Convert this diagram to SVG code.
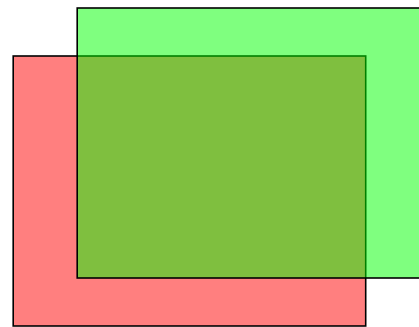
<svg xmlns="http://www.w3.org/2000/svg" width="419" height="327" viewBox="0 0 419 327">
<style>
.r{stroke:#000;stroke-width:1.6;fill-opacity:0.5}
</style>
<rect width="419" height="327" fill="#fff"/>
<g id="red"><rect class="r" x="13.2" y="56" width="352.5" height="270" fill="#ff0000"/></g>
<g id="green"><rect class="r" x="77.2" y="8" width="352.5" height="270" fill="#00ff00"/></g>
<g id="connectors"></g>
</svg>
